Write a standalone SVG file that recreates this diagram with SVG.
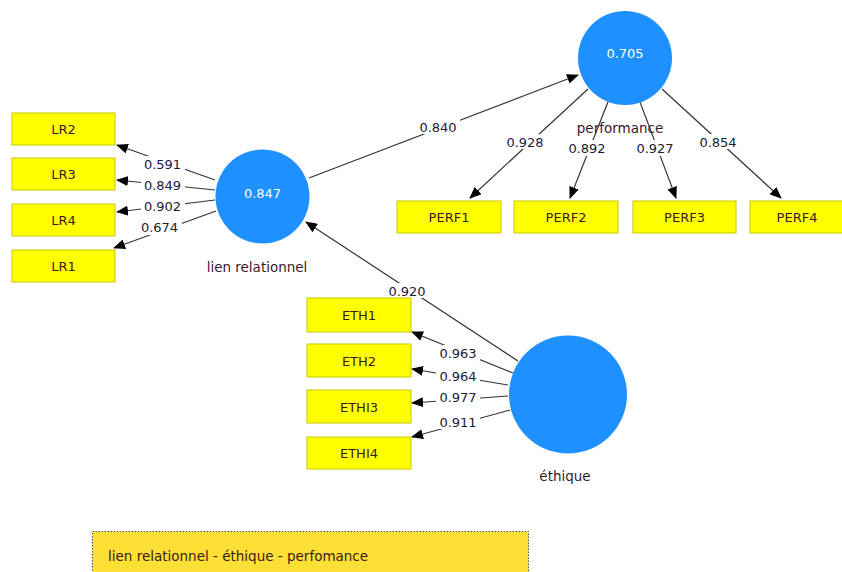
<svg xmlns="http://www.w3.org/2000/svg" width="842" height="572" viewBox="0 0 842 572">
<defs>
<marker id="arr" markerWidth="12" markerHeight="10" refX="11" refY="5" orient="auto" markerUnits="userSpaceOnUse">
<path d="M0,0 L12,5 L0,10 Z" fill="#000"/>
</marker>
<style>
.box{fill:#ffff00;stroke:#c9c900;stroke-width:1}
.bt{font-family:"DejaVu Sans",sans-serif;font-size:13px;fill:#3a1a1a;text-anchor:middle}
.lv{fill:#1e90ff}
.lt{font-family:"DejaVu Sans",sans-serif;font-size:13px;fill:#ffffff;text-anchor:middle}
.ln{font-family:"DejaVu Sans",sans-serif;font-size:13.5px;fill:#3a1a2a;text-anchor:middle}
.c{stroke:#333;stroke-width:1.2;fill:none;marker-end:url(#arr)}
.w{fill:#fff}
.el{font-family:"DejaVu Sans",sans-serif;font-size:13px;fill:#1a1a3a;text-anchor:middle}
</style>
</defs>
<rect width="842" height="572" fill="#fff"/>
<g id="connectors">
<line class="c" x1="215" y1="180" x2="117" y2="145"/>
<line class="c" x1="215" y1="190" x2="117" y2="180"/>
<line class="c" x1="215" y1="200" x2="117" y2="212"/>
<line class="c" x1="216" y1="211" x2="114" y2="248"/>
<line class="c" x1="309" y1="178" x2="578" y2="75"/>
<line class="c" x1="588" y1="89" x2="470" y2="198"/>
<line class="c" x1="608" y1="102" x2="570" y2="198"/>
<line class="c" x1="640" y1="102" x2="676" y2="198"/>
<line class="c" x1="662" y1="89" x2="781" y2="198"/>
<line class="c" x1="518" y1="361" x2="306" y2="222"/>
<line class="c" x1="513" y1="373" x2="412" y2="332"/>
<line class="c" x1="508" y1="385" x2="412" y2="369"/>
<line class="c" x1="508" y1="396" x2="412" y2="403"/>
<line class="c" x1="510" y1="410" x2="412" y2="437"/>
<rect class="w" x="141" y="156" width="44" height="15"/><text class="el" x="162.5" y="168.5">0.591</text>
<rect class="w" x="141" y="178" width="44" height="15"/><text class="el" x="162.5" y="189.5">0.849</text>
<rect class="w" x="141" y="199" width="44" height="15"/><text class="el" x="162.5" y="210.5">0.902</text>
<rect class="w" x="138" y="220" width="44" height="15"/><text class="el" x="159.5" y="231.5">0.674</text>
<rect class="w" x="416" y="119" width="44" height="15"/><text class="el" x="438" y="131.5">0.840</text>
<rect class="w" x="503" y="134" width="44" height="15"/><text class="el" x="525" y="146.5">0.928</text>
<rect class="w" x="565" y="140" width="44" height="16"/><text class="el" x="587" y="152.5">0.892</text>
<rect class="w" x="633" y="140" width="44" height="16"/><text class="el" x="655" y="152.5">0.927</text>
<rect class="w" x="696" y="134" width="44" height="15"/><text class="el" x="718" y="146.5">0.854</text>
<rect class="w" x="385" y="283" width="44" height="15"/><text class="el" x="407" y="295.5">0.920</text>
<rect class="w" x="436" y="345" width="44" height="15"/><text class="el" x="458" y="357.5">0.963</text>
<rect class="w" x="436" y="368" width="44" height="15"/><text class="el" x="458" y="380.5">0.964</text>
<rect class="w" x="436" y="389" width="44" height="15"/><text class="el" x="458" y="401.5">0.977</text>
<rect class="w" x="436" y="414" width="44" height="15"/><text class="el" x="458" y="426.5">0.911</text>
</g>
<g id="LR2"><rect class="box" x="12" y="113" width="103" height="32"/><text class="bt" x="63.5" y="134">LR2</text></g>
<g id="LR3"><rect class="box" x="12" y="158" width="103" height="32"/><text class="bt" x="63.5" y="179">LR3</text></g>
<g id="LR4"><rect class="box" x="12" y="204" width="103" height="32"/><text class="bt" x="63.5" y="225">LR4</text></g>
<g id="LR1"><rect class="box" x="12" y="250" width="103" height="32"/><text class="bt" x="63.5" y="271">LR1</text></g>
<g id="lien_relationnel"><circle class="lv" cx="262.5" cy="196.5" r="47"/><text class="lt" x="262.5" y="197.5">0.847</text><text class="ln" x="257" y="272">lien relationnel</text></g>
<g id="performance"><circle class="lv" cx="625" cy="58" r="47"/><text class="lt" x="625" y="57.5">0.705</text><text class="ln" x="620" y="133">performance</text></g>
<g id="PERF1"><rect class="box" x="397" y="201" width="104" height="32"/><text class="bt" x="449" y="222">PERF1</text></g>
<g id="PERF2"><rect class="box" x="514" y="201" width="104" height="32"/><text class="bt" x="566" y="222">PERF2</text></g>
<g id="PERF3"><rect class="box" x="633" y="201" width="103" height="32"/><text class="bt" x="684.5" y="222">PERF3</text></g>
<g id="PERF4"><rect class="box" x="750" y="201" width="104" height="32"/><text class="bt" x="797" y="222">PERF4</text></g>
<g id="ethique"><circle class="lv" cx="568" cy="394.5" r="59"/><text class="ln" x="565" y="481">éthique</text></g>
<g id="ETH1"><rect class="box" x="307" y="298" width="104" height="34"/><text class="bt" x="359" y="320">ETH1</text></g>
<g id="ETH2"><rect class="box" x="307" y="344" width="104" height="33"/><text class="bt" x="359" y="365.5">ETH2</text></g>
<g id="ETHI3"><rect class="box" x="307" y="390" width="104" height="33"/><text class="bt" x="359" y="411.5">ETHI3</text></g>
<g id="ETHI4"><rect class="box" x="307" y="437" width="104" height="32"/><text class="bt" x="359" y="458">ETHI4</text></g>
<g id="legend"><rect x="92.5" y="531.5" width="436" height="50" fill="#fddf35" stroke="#555" stroke-width="1" stroke-dasharray="1.5,1.5"/><text x="108" y="561" font-family="DejaVu Sans, sans-serif" font-size="13.5px" fill="#3a1a1a">lien relationnel - éthique - perfomance</text></g>
</svg>
